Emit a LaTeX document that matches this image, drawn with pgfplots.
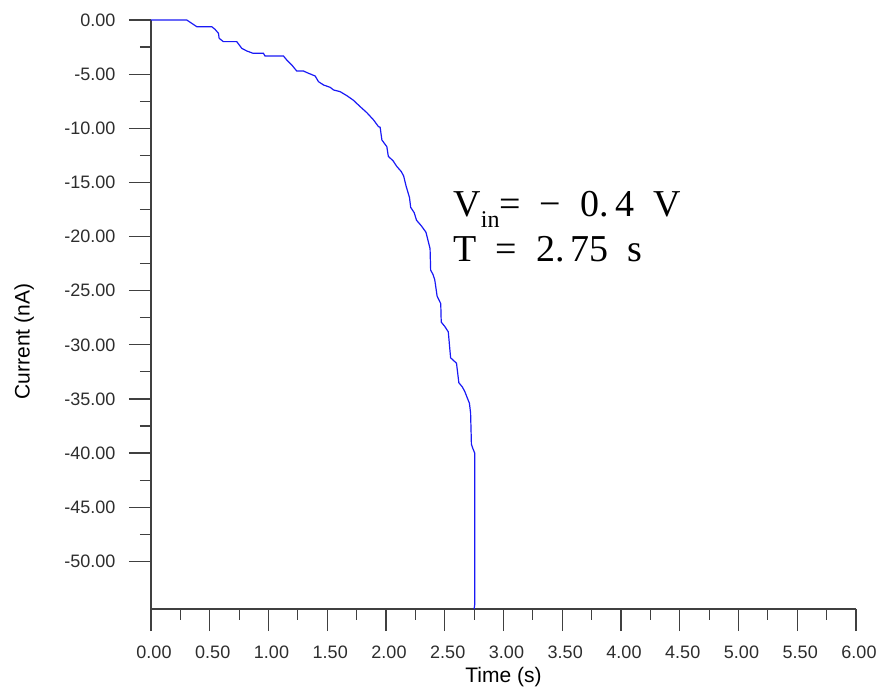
\documentclass[border=0pt]{standalone}
\usepackage{pgfplots}
\pgfplotsset{compat=1.18}
\usepackage{fontspec}
\setmainfont{Liberation Sans}
\newfontfamily\annfont{Liberation Serif}
\definecolor{axgray}{RGB}{64,64,64}
\definecolor{lblgray}{RGB}{45,45,45}
\definecolor{curve}{RGB}{25,25,245}
\begin{document}
\begin{tikzpicture}
\begin{axis}[
  scale only axis, width=705pt, height=589pt,
  xmin=0, xmax=6, ymin=-54.4, ymax=0,
  axis lines=left,
  axis line style={-, axgray, line width=1.2pt},
  tick align=outside,
  major tick length=22pt, minor tick length=11pt,
  tick style={axgray, line width=1.2pt},
  xtick={0,0.5,1,1.5,2,2.5,3,3.5,4,4.5,5,5.5,6},
  xticklabels={0.00,0.50,1.00,1.50,2.00,2.50,3.00,3.50,4.00,4.50,5.00,5.50,6.00},
  ytick={-50,-45,-40,-35,-30,-25,-20,-15,-10,-5,0},
  yticklabels={-50.00,-45.00,-40.00,-35.00,-30.00,-25.00,-20.00,-15.00,-10.00,-5.00,0.00},
  minor x tick num=1, minor y tick num=1,
  tick label style={font=\fontsize{18}{18}\selectfont, text=lblgray},
  xticklabel style={yshift=-11pt, xshift=3pt},
  yticklabel style={xshift=-10pt},
  xlabel={Time (s)}, ylabel={Current (nA)},
  label style={font=\fontsize{21}{21}\selectfont},
  xlabel style={at={(axis description cs:0.5,-0.1256)}, anchor=base},
  ylabel style={at={(axis description cs:-0.1720,0.4538)}, anchor=base},
  clip=false,
]
\addplot[curve, line width=1.2pt] coordinates {
(0,0) (0.304,0) (0.347,-0.31) (0.39,-0.62) (0.517,-0.62) (0.545,-0.86) (0.574,-1.23)
(0.58,-1.69) (0.616,-2.0) (0.73,-2.0) (0.773,-2.62) (0.815,-2.86) (0.87,-3.08)
(0.957,-3.08) (0.97,-3.32) (1.127,-3.32) (1.155,-3.69) (1.198,-4.15) (1.24,-4.71)
(1.297,-4.71) (1.34,-4.92) (1.397,-5.17) (1.425,-5.69) (1.468,-6.0) (1.525,-6.22)
(1.553,-6.46) (1.61,-6.62) (1.667,-6.99) (1.72,-7.39) (1.78,-8.0) (1.837,-8.56)
(1.894,-9.23) (1.936,-9.85) (1.95,-9.9) (1.965,-11.08) (2.007,-11.7) (2.02,-12.6)
(2.06,-13.0) (2.09,-13.5) (2.13,-14.0) (2.15,-14.4) (2.17,-15.3) (2.20,-16.4)
(2.21,-17.3) (2.24,-17.8) (2.26,-18.5) (2.30,-19.0) (2.34,-19.6) (2.37,-20.9)
(2.375,-21.1) (2.38,-23.1) (2.40,-23.5) (2.415,-24.0) (2.435,-25.5) (2.466,-26.2)
(2.47,-27.9) (2.50,-28.3) (2.53,-28.8) (2.55,-31.2) (2.58,-31.5) (2.60,-31.7)
(2.62,-33.5) (2.65,-33.9) (2.67,-34.3) (2.71,-35.4) (2.72,-36.3) (2.727,-39.2)
(2.74,-39.6) (2.755,-40.0) (2.755,-54.0) (2.75,-54.4)
};
\node[anchor=base west, inner sep=0pt, font=\annfont\fontsize{38}{38}\selectfont]
  at (axis cs:2.572,-18.16) {V\raisebox{-11pt}{\fontsize{24}{24}\selectfont in}=\ \ \textminus\ \ 0.\,4\ \ V};
\node[anchor=base west, inner sep=0pt, font=\annfont\fontsize{38}{38}\selectfont]
  at (axis cs:2.572,-22.3) {T\ \ =\ \ 2.\,75\ \ s};
\end{axis}
\pgfresetboundingbox
\path ([shift={(-151pt,-84pt)}]current axis.south west) rectangle ++(884pt,693pt);
\end{tikzpicture}
\end{document}
